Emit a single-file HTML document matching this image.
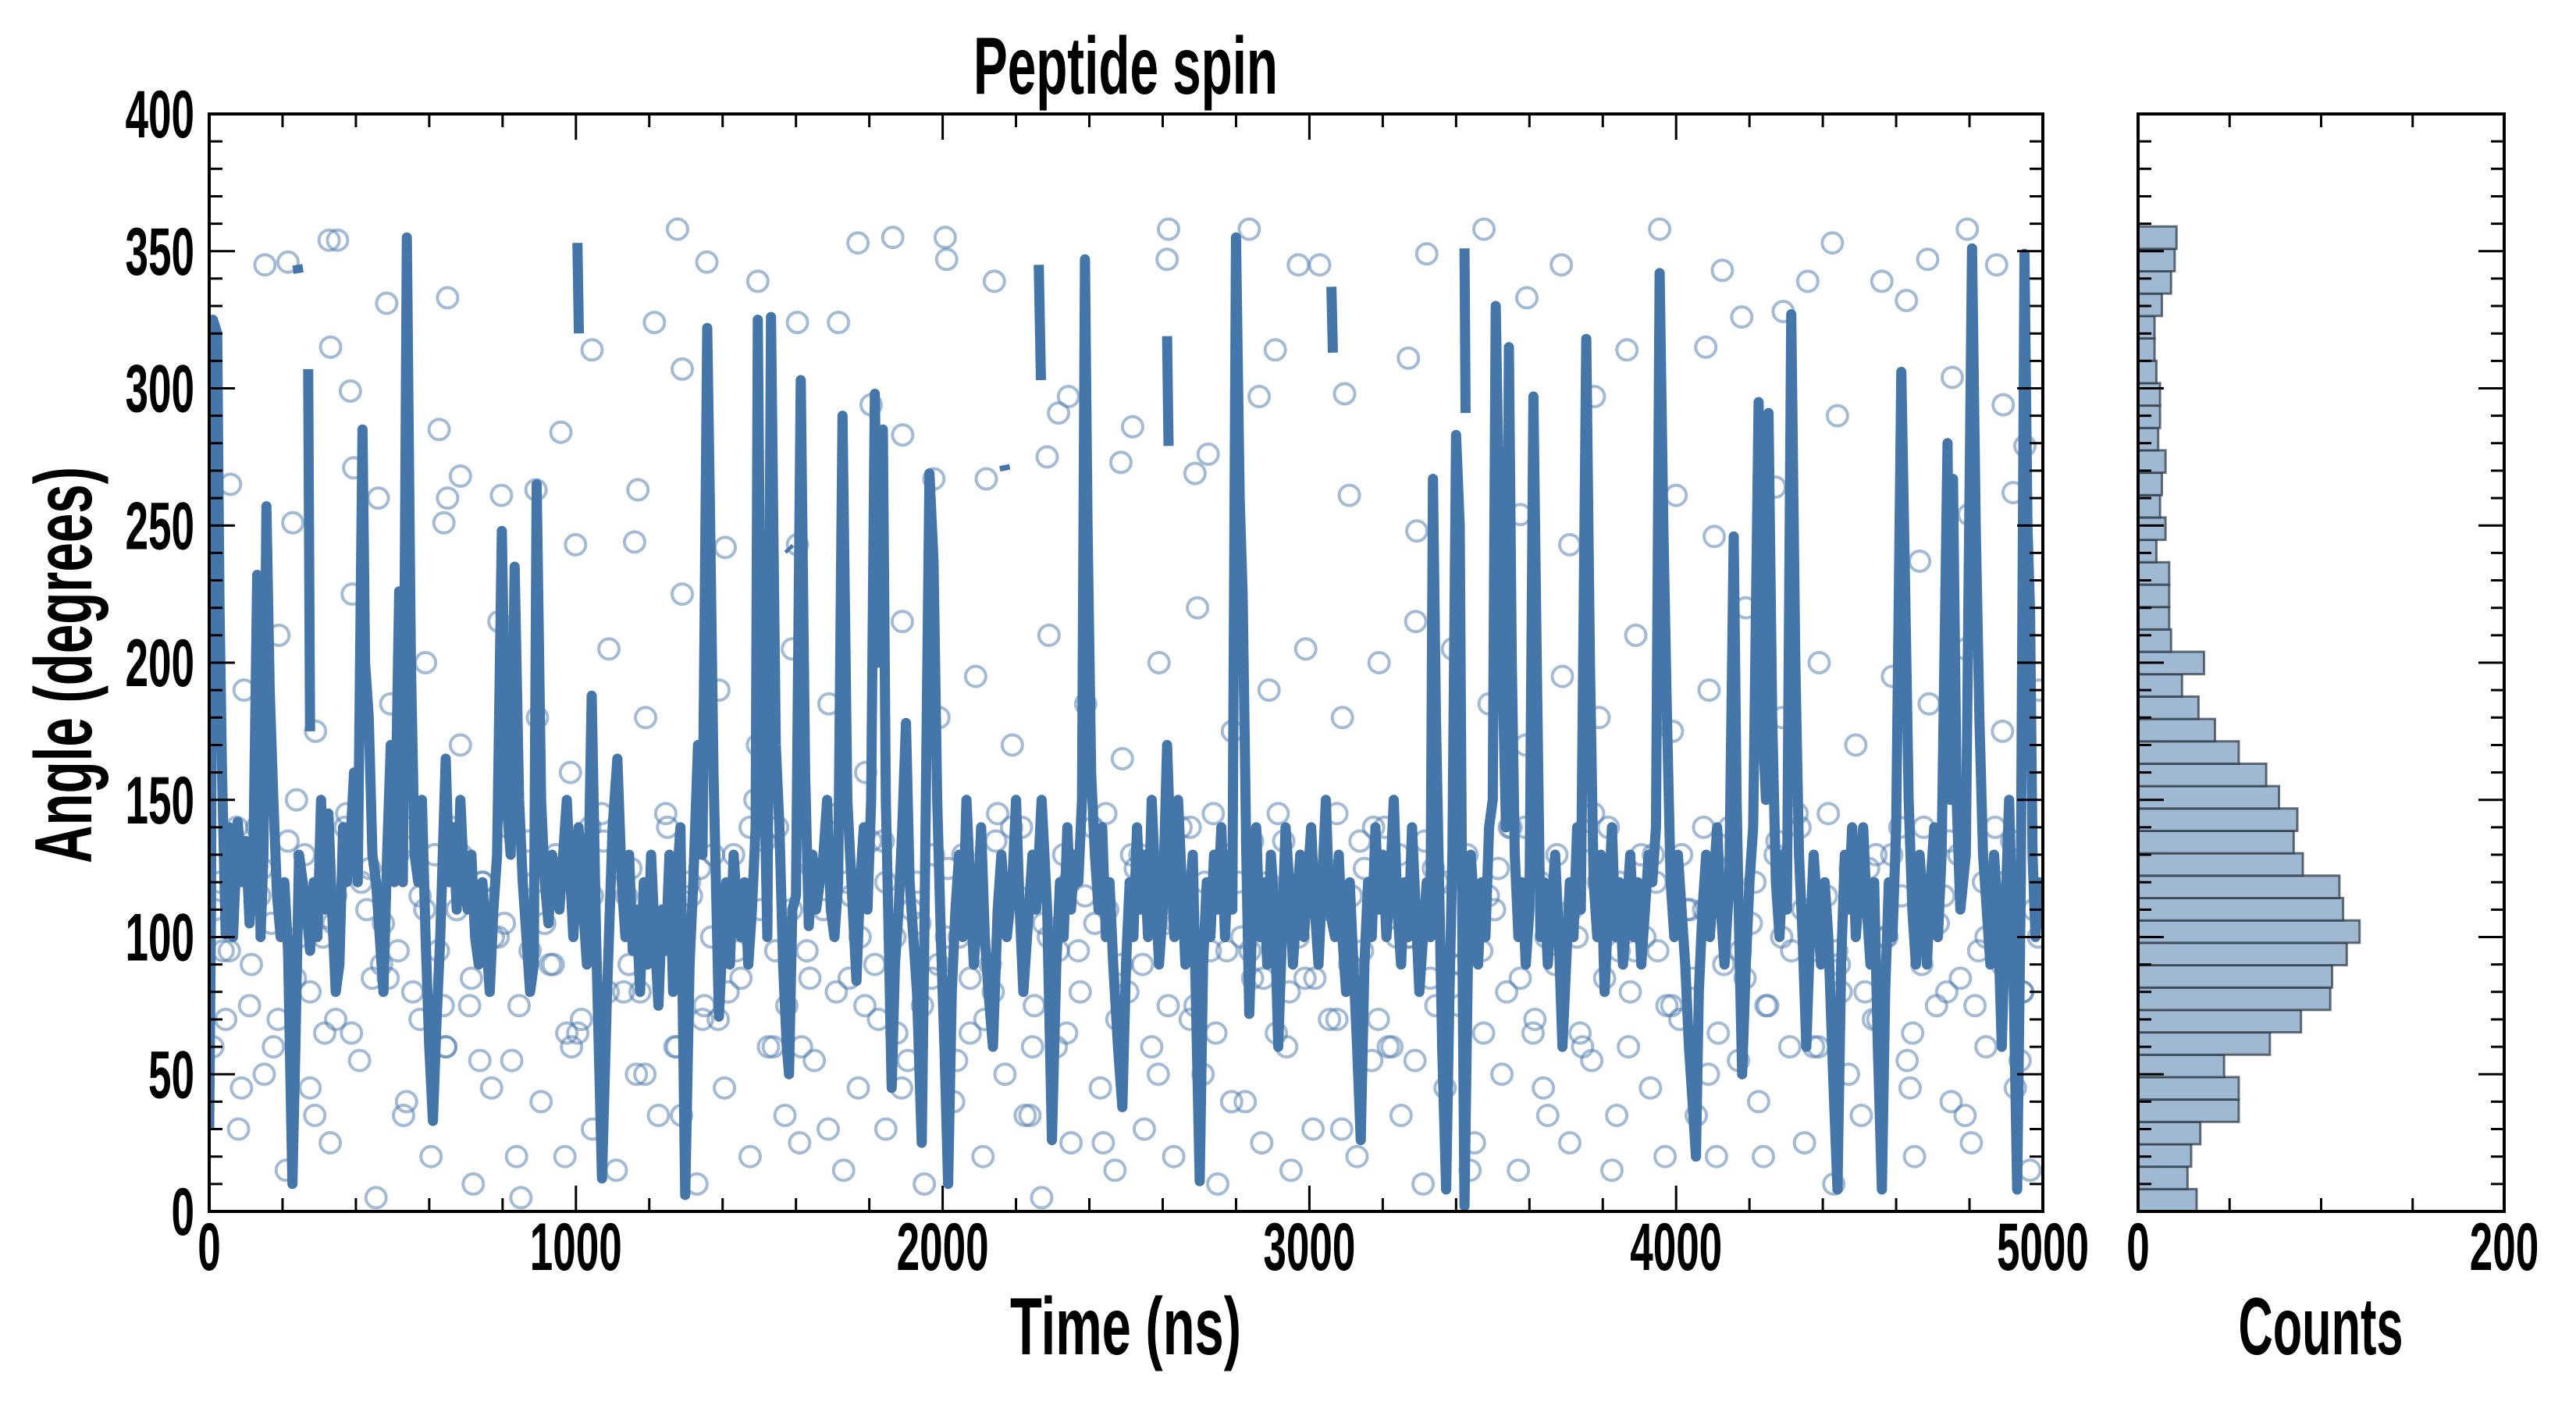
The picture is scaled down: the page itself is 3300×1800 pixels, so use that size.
<!DOCTYPE html>
<html><head><meta charset="utf-8"><style>
html,body{margin:0;padding:0;background:#fff;}
svg{display:block;}
text{font-family:"Liberation Sans Narrow","Liberation Sans",sans-serif;font-weight:bold;fill:#000;}
</style></head><body>
<svg id="chart" width="3300" height="1800" viewBox="0 0 3300 1800" xmlns="http://www.w3.org/2000/svg">
<g id="main-scatter"></g>
<g id="main-line"></g>
<g id="hist-bars"></g>
<g id="axes"></g>
<text x="1442" y="120" text-anchor="middle" font-size="104" textLength="390" lengthAdjust="spacingAndGlyphs">Peptide spin</text>
<text x="1442" y="1735" text-anchor="middle" font-size="104" textLength="296" lengthAdjust="spacingAndGlyphs">Time (ns)</text>
<text x="2973" y="1735" text-anchor="middle" font-size="104" textLength="211" lengthAdjust="spacingAndGlyphs">Counts</text>
<text transform="translate(117,852) rotate(-90)" x="0" y="0" text-anchor="middle" font-size="104" textLength="508" lengthAdjust="spacingAndGlyphs">Angle (degrees)</text>
</svg>
<script>
const lineTimes=[0,5,10,22,28,35,45,55,65,78,90,100,110,120,131,140,148,156,165,175,185,195,205,215,227,235,245,255,265,275,285,295,305,315,325,335,345,355,365,375,385,395,405,418,425,435,445,455,465,475,485,495,505,518,528,539,550,560,570,580,590,600,610,620,630,645,655,665,675,685,695,705,715,725,735,745,755,765,775,785,798,810,822,833,845,855,865,875,885,893,905,915,925,935,945,955,965,975,985,993,
1000,1007,1020,1030,1043,1055,1071,1085,1100,1113,1125,1135,1145,1155,1165,1175,1185,1195,1205,1215,1225,1235,1245,1255,1265,1275,1285,1298,1310,1320,1333,1345,1358,1365,1375,1390,1400,1410,1420,1430,1440,1450,1460,1470,1480,1490,1496,1505,1515,1522,1532,1545,1555,1565,1575,1581,1590,1600,1613,1625,1635,1645,1655,1665,1675,1685,1695,1705,1715,1727,1740,1755,1765,1775,1785,1795,1805,1815,1825,1837,1845,1853,1861,1870,1880,1890,1900,1910,1920,1930,1943,1950,1964,1975,1985,1995,
2005,2015,2025,2035,2045,2055,2065,2075,2085,2095,2105,2115,2125,2137,2150,2160,2175,2190,2200,2210,2220,2230,2245,2255,2270,2285,2298,2310,2320,2330,2340,2350,2360,2370,2380,2388,2395,2405,2415,2425,2435,2445,2455,2465,2478,2490,2500,2510,2520,2530,2540,2550,2560,2570,2580,2590,2600,2612,2622,2632,2642,2652,2662,2672,2682,2690,2701,2710,2720,2730,2740,2750,2760,2770,2780,2790,2800,2810,2818,2828,2836,2845,2855,2865,2875,2885,2895,2905,2915,2925,2935,2945,2955,2965,2975,2985,2995,
3005,3015,3025,3035,3045,3055,3070,3080,3090,3100,3110,3120,3130,3140,3150,3160,3170,3180,3190,3200,3210,3220,3230,3240,3250,3260,3270,3280,3290,3300,3310,3320,3330,3337,3345,3355,3362,3373,3382,3390,3400,3410,3417,3423,3432,3440,3450,3460,3470,3480,3490,3500,3508,3518,3528,3536,3544,3552,3560,3570,3580,3590,3600,3611,3620,3630,3640,3650,3660,3670,3680,3690,3700,3710,3720,3730,3740,3755,3765,3775,3785,3795,3805,3815,3825,3835,3845,3855,3865,3875,3885,3895,3905,3915,3925,3935,3945,3955,3965,3975,3985,
3995,4005,4015,4025,4035,4045,4054,4062,4072,4082,4092,4102,4112,4122,4132,4145,4157,4165,4172,4180,4190,4200,4210,4225,4235,4245,4252,4262,4272,4282,4292,4302,4314,4325,4335,4345,4355,4365,4375,4385,4395,4405,4415,4428,4440,4450,4460,4470,4480,4490,4500,4510,4520,4530,4540,4550,4561,4570,4580,4590,4600,4614,4624,4634,4644,4654,4664,4674,4684,4694,4704,4714,4724,4740,4748,4755,4765,4775,4790,4807,4817,4827,4837,4847,4857,4867,4877,4888,4898,4908,4918,4930,4940,4950,4958,4965,4972,4980,4990,5000,
null,240,244,null,270,275,null,1004,1008,null,1578,1585,null,2168,2171,null,2262,2268,null,2612,2616,null,3060,3064,null,3423,3426];
const lineAngles=[30,110,325,320,221,160,101,140,100,142,120,135,105,125,232,100,130,257,190,150,115,100,120,95,10,60,130,120,110,95,120,100,150,110,145,110,80,90,140,120,135,160,120,285,200,180,130,120,100,80,130,170,120,226,120,355,200,130,120,150,100,60,33,70,100,165,120,140,110,150,120,110,130,100,90,120,100,80,110,130,248,150,130,235,150,120,100,80,90,265,150,120,105,130,120,110,130,150,120,100,
120,140,110,90,188,100,12,80,140,165,120,100,130,95,110,80,120,90,130,100,75,110,95,130,80,120,140,6,90,120,170,130,322,260,160,71,100,120,90,130,110,100,120,90,110,140,325,180,150,100,326,170,140,90,60,50,110,115,303,160,104,130,110,120,130,150,110,100,120,290,150,110,84,120,140,110,150,298,200,285,150,100,45,90,110,140,178,120,100,80,25,100,269,237,150,100,
60,10,80,110,130,100,150,120,90,110,140,100,80,60,110,130,100,120,150,110,80,100,130,110,150,110,26,90,120,100,140,110,130,120,150,347,250,159,130,110,140,100,120,90,60,38,90,120,100,140,110,130,100,150,120,90,110,170,130,100,150,120,90,110,130,80,11,90,120,100,130,110,140,100,130,110,355,260,225,130,72,110,140,100,120,90,130,110,60,100,140,120,90,110,130,100,120,
140,110,90,120,150,110,100,130,100,80,120,90,60,26,90,120,100,140,110,130,100,120,150,110,90,120,100,140,110,80,100,120,100,267,180,110,60,8,80,130,283,250,100,2,90,130,110,90,120,100,140,150,330,250,189,140,315,200,130,100,120,90,110,297,200,100,120,90,110,130,100,60,90,120,100,140,110,318,200,120,100,130,80,110,140,100,120,90,110,130,100,120,90,110,130,120,140,342,250,180,120,
100,130,110,90,60,40,20,80,110,130,100,120,140,110,90,120,246,150,100,50,90,120,140,295,180,150,291,180,120,100,130,110,327,200,130,100,60,100,130,110,90,120,100,50,8,90,130,110,140,100,120,140,110,90,120,60,8,80,120,100,140,306,230,150,110,90,130,110,90,120,140,100,130,280,150,267,150,110,130,351,250,180,130,110,90,130,110,60,110,150,100,8,120,349,250,219,130,100,120,110,
null,345,342,null,307,175,null,353,320,null,242,241,null,272,270,null,345,303,null,319,279,null,337,313,null,351,291];

const scatterTimes=[152,215,327,350,331,385,484,650,650,627,685,891,1044,959,1169,1214,1277,1290,1357,1496,1604,1716,1769,1864,2007,2011,2141,2285,2343,2518,2616,2612,2724,2836,2970,3028,2907,3096,3270,3320,3476,3593,3687,3866,3955,4081,4126,4179,4292,4359,4426,4561,4628,4686,4794,4874,4753,4892,4919,4951,4798,4664,4440,4270,4104,4000,3777,3710,3575,3293,3109,2863,2688,2486,2316,2119,1976,1891,1805,1604,1407,1160,999,797,640,461,228,58,394,
10,30,55,80,95,110,130,150,170,190,210,235,260,275,290,310,330,345,370,390,410,430,455,470,495,515,530,555,575,590,605,625,645,660,685,710,720,745,770,790,805,825,850,870,895,905,930,950,970,985,
1005,1025,1045,1070,1090,1110,1130,1150,1165,1190,1205,1225,1250,1270,1290,1310,1330,1350,1370,1390,1405,1430,1450,1475,1495,1505,1525,1550,1570,1590,1610,1630,1650,1670,1690,1710,1730,1750,1770,1790,1805,1825,1845,1870,1890,1905,1930,1950,1970,1990,
2010,2030,2055,2075,2090,2110,2130,2150,2170,2190,2205,2225,2250,2270,2290,2310,2330,2350,2370,2390,2410,2430,2450,2470,2490,2505,2525,2550,2570,2590,2610,2630,2650,2675,2695,2710,2730,2750,2770,2790,2805,2825,2845,2870,2890,2910,2930,2950,2970,2990,
3010,3030,3055,3075,3090,3110,3130,3150,3170,3190,3205,3225,3250,3270,3290,3310,3330,3350,3370,3390,3410,3430,3450,3470,3490,3505,3525,3550,3570,3590,3610,3630,3650,3670,3690,3710,3730,3750,3770,3790,3805,3825,3845,3870,3890,3905,3930,3950,3970,3990,
4010,4030,4055,4075,4090,4110,4130,4150,4170,4190,4205,4225,4250,4270,4290,4310,4330,4350,4370,4390,4410,4430,4450,4470,4490,4505,4525,4550,4570,4590,4610,4630,4650,4670,4690,4710,4730,4750,4770,4790,4805,4825,4845,4870,4890,4905,4925,4945,4965,4990,
15,45,75,115,145,175,215,245,275,315,345,375,415,445,475,515,545,575,615,645,675,715,745,775,815,845,875,915,945,975,1015,1045,1075,1115,1145,1175,1215,1245,1275,1315,1345,1375,1415,1445,1475,1515,1545,1575,1615,1645,1675,1715,1745,1775,1815,1845,1875,1915,1945,1975,
2015,2045,2075,2115,2145,2175,2215,2245,2275,2315,2345,2375,2415,2445,2475,2515,2545,2575,2615,2645,2675,2715,2745,2775,2815,2845,2875,2915,2945,2975,3015,3045,3075,3115,3145,3175,3215,3245,3275,3315,3345,3375,3415,3445,3475,3515,3545,3575,3615,3645,3675,3715,3745,3775,3815,3845,3875,3915,3945,3975,
4015,4045,4075,4115,4145,4175,4215,4245,4275,4315,4345,4375,4415,4445,4475,4515,4545,4575,4615,4645,4675,4715,4745,4775,4815,4845,4875,4915,4945,4975,
38,88,138,188,238,288,338,388,438,488,538,588,638,688,738,788,838,888,938,988,1038,1088,1138,1188,1238,1288,1338,1388,1438,1488,1538,1588,1638,1688,1738,1788,1838,1888,1938,1988,
2038,2088,2138,2188,2238,2288,2338,2388,2438,2488,2538,2588,2638,2688,2738,2788,2838,2888,2938,2988,3038,3088,3138,3188,3238,3288,3338,3388,3438,3488,3538,3588,3638,3688,3738,3788,3838,3888,3938,3988,
4038,4088,4138,4188,4238,4288,4338,4388,4438,4488,4538,4588,4638,4688,4738,4788,4838,4888,4938,4988];
const scatterAngles=[345,346,354,354,315,299,331,333,260,285,268,263,314,284,263,324,358,307,346,339,324,324,353,355,355,347,339,275,297,286,358,347,276,358,345,345,314,298,311,349,358,333,345,314,358,315,343,326,328,339,353,339,332,347,358,345,304,294,262,279,254,237,290,264,246,261,297,243,254,248,261,297,269,273,291,267,267,283,294,243,242,244,243,261,251,260,251,265,271,
60,120,95,30,190,75,140,50,105,210,15,85,130,45,175,100,25,70,140,225,55,110,5,90,185,130,35,80,115,200,20,95,60,140,170,75,10,120,45,215,105,55,5,135,180,40,90,125,20,160,
65,110,30,145,205,15,80,125,50,180,95,35,140,60,225,120,10,75,100,190,45,130,85,20,170,110,60,140,35,205,25,95,55,125,185,80,15,115,45,160,135,70,30,100,215,55,120,10,85,180,
100,40,130,65,195,20,90,145,50,170,115,35,75,5,210,60,130,25,95,185,140,45,110,15,165,80,125,30,60,200,105,20,140,70,220,50,95,10,130,175,120,40,85,25,190,65,135,15,100,205,
30,110,70,145,180,90,20,125,55,200,140,60,35,100,215,10,85,120,45,205,75,130,25,95,185,110,50,140,15,170,65,120,35,90,195,25,100,135,55,180,85,15,120,60,210,130,45,95,20,175,
70,110,35,140,190,20,90,125,55,220,105,40,75,130,180,60,145,25,95,200,115,10,80,50,170,35,125,70,100,195,140,55,20,90,185,75,115,40,130,205,25,95,60,140,175,110,45,80,15,190,
110,70,140,90,125,60,135,100,80,65,115,145,120,85,105,95,140,70,130,60,110,85,120,100,140,75,95,105,130,65,70,115,135,125,90,80,100,145,60,115,70,130,80,105,140,135,95,75,60,125,110,145,85,100,90,120,65,110,75,130,
125,100,85,70,135,115,140,60,105,95,120,80,105,145,70,130,90,115,75,110,140,120,65,95,100,135,85,145,80,110,85,125,70,115,95,140,60,130,100,135,75,120,90,110,65,125,140,85,70,100,130,110,60,145,140,95,80,100,120,75,
130,85,110,65,140,95,120,75,135,95,110,60,145,90,125,80,130,100,115,65,140,105,135,85,75,100,120,135,80,110,
95,45,115,70,150,35,105,65,125,85,40,110,75,130,55,100,20,120,90,60,140,80,115,50,100,35,125,70,95,150,60,110,85,30,120,75,135,45,105,90,
55,120,80,140,35,100,65,115,25,90,130,50,105,75,145,40,95,120,60,85,110,30,135,70,100,55,125,90,15,115,80,140,45,100,65,120,35,95,130,75,
110,50,125,85,20,100,140,60,95,115,70,130,45,105,80,35,120,90,55,100];

const histCounts=[32,27,29,34,55,55,47,72,89,105,106,114,121,112,110,90,85,87,77,70,55,42,33,24,36,18,17,17,17,10,15,12,13,15,11,12,12,10,9,9,13,18,20,21];
const histMin=0, histMax=359;
const xTickLabels=["0","1000","2000","3000","4000","5000"];
const yTickLabels=["0","50","100","150","200","250","300","350","400"];
const hTickLabels=["0","200"];

const NS="http://www.w3.org/2000/svg";
const L=268,R=2617,T=146,B=1552,HL=2739,HR=3208;
const xS=t=>L+(t/5000)*(R-L);
const yS=a=>B-(a/400)*(B-T);
const hX=c=>HL+(c/200)*(HR-HL);
function mk(tag,attrs,parent){const e=document.createElementNS(NS,tag);for(const k in attrs)e.setAttribute(k,attrs[k]);parent.appendChild(e);return e;}

const defs=mk('defs',{},document.getElementById('chart'));
const cp=mk('clipPath',{id:'clipMain'},defs);mk('rect',{x:L,y:T,width:R-L,height:B-T},cp);

const sg=document.getElementById('main-scatter');sg.setAttribute('clip-path','url(#clipMain)');
for(let i=0;i<scatterTimes.length;i++){
  const c=mk('circle',{cx:xS(scatterTimes[i]),cy:yS(scatterAngles[i]),r:13,fill:'none',stroke:'#4a78ab','stroke-opacity':0.5,'stroke-width':4},sg);
  
  
}
const lg=document.getElementById('main-line');lg.setAttribute('clip-path','url(#clipMain)');
let d='',pen=false;
for(let i=0;i<lineTimes.length;i++){
  if(lineTimes[i]===null||lineAngles[i]===null){pen=false;continue;}
  d+=(pen?'L':'M')+xS(lineTimes[i]).toFixed(1)+','+yS(lineAngles[i]).toFixed(1);pen=true;
}
const lp=mk('path',{d:d,fill:'none',stroke:'#4576a9','stroke-width':13,'stroke-linejoin':'round'},lg);



const hg=document.getElementById('hist-bars');
const bw=(histMax-histMin)/histCounts.length;
for(let i=0;i<histCounts.length;i++){
  const y0=yS(histMin+i*bw),y1=yS(histMin+(i+1)*bw);
  const r=mk('rect',{x:HL,y:y1,width:hX(histCounts[i])-HL,height:y0-y1,fill:'#a0b9d3',stroke:'#2a3440','stroke-opacity':0.7,'stroke-width':3},hg);
  
  
}

const ax=document.getElementById('axes');
function frame(x0,x1,name){
  const f=mk('rect',{x:x0,y:T,width:x1-x0,height:B-T,fill:'none',stroke:'#000','stroke-width':4},ax);
  
  
}
frame(L,R,'main-plot-frame');frame(HL,HR,'hist-plot-frame');
function ln(x1,y1,x2,y2){mk('line',{x1:x1,y1:y1,x2:x2,y2:y2,stroke:'#000','stroke-width':3},ax);}
for(let a=0;a<=400;a+=10){
  const len=(a%50===0)?33:17,y=yS(a);
  ln(L,y,L+len,y);ln(R,y,R-len,y);ln(HL,y,HL+len,y);ln(HR,y,HR-len,y);
}
for(let t=0;t<=5000;t+=200){
  const len=(t%1000===0)?33:17,x=xS(t);
  ln(x,B,x,B-len);ln(x,T,x,T+len);
}
for(let c=0;c<=200;c+=50){const x=hX(c);ln(x,B,x,B-17);ln(x,T,x,T+17);}
function label(txt,x,y,anchor,name){
  const e=mk('text',{x:x,y:y,'text-anchor':anchor,'font-size':86,textLength:txt.length*29.5,lengthAdjust:'spacingAndGlyphs'},ax);
  e.textContent=txt;
  
  
}
yTickLabels.forEach((s,i)=>label(s,249,yS(i*50)+30,'end','y-tick-label'));
xTickLabels.forEach((s,i)=>label(s,xS(i*1000),1627,'middle','x-tick-label'));
label(hTickLabels[0],hX(0),1627,'middle','hist-x-tick-label');
label(hTickLabels[1],hX(200),1627,'middle','hist-x-tick-label');
</script>
</body></html>
